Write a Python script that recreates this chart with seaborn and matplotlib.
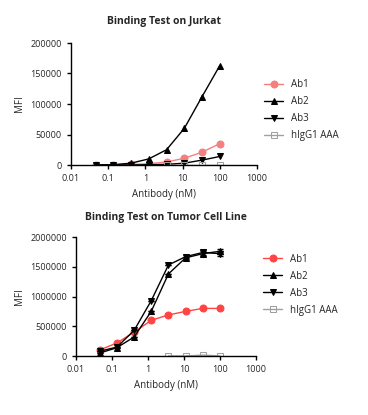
import numpy as np
import pandas as pd
import matplotlib
matplotlib.use("Agg")
import matplotlib.pyplot as plt
import seaborn as sns

# antibody concentrations (nM), 3-fold dilution
conc = [0.0457, 0.137, 0.412, 1.23, 3.70, 11.1, 33.3, 100]
conc_igg = [3.70, 11.1, 33.3, 100]

# Jurkat
jurkat_ab1 = [300, 500, 1000, 2000, 5000, 11000, 21000, 35000]
jurkat_ab2 = [0, 500, 3000, 10000, 25000, 60000, 112000, 163000]
jurkat_ab3 = [0, 0, 0, 500, 1000, 3000, 8000, 14000]
jurkat_igg = [0, 0, 0, 0]

# tumor cell line
tumor_ab1 = [100000, 220000, 400000, 600000, 690000, 750000, 800000, 800000]
tumor_ab2 = [50000, 140000, 320000, 750000, 1380000, 1650000, 1720000, 1760000]
tumor_ab3 = [80000, 150000, 430000, 930000, 1530000, 1670000, 1740000, 1720000]
tumor_igg = [0, 0, 15000, 0]
tumor_err = [0, 0, 0, 0, 0, 20000, 40000, 45000]

sns.set_style("ticks")
plt.rcParams["font.family"] = ["Open Sans", "DejaVu Sans"]

fig = plt.figure(figsize=(3.68, 4.15), dpi=100)
W, H = 368, 415
ax1 = fig.add_axes([71 / W, 1 - 165 / H, 186 / W, 122 / H])
ax2 = fig.add_axes([76 / W, 1 - 356 / H, 180 / W, 119 / H])


def draw(ax, series, igg, leg_y, err=None):
    for name, y, color, marker in series:
        sns.lineplot(x=conc, y=y, ax=ax, color=color, marker=marker, markersize=5,
                     markeredgecolor=color, linewidth=1, label=name)
        if err is not None and name != "Ab1":
            ax.errorbar(conc, y, yerr=err, fmt="none", ecolor=color, elinewidth=1, capsize=2)
    sns.lineplot(x=conc_igg, y=igg, ax=ax, color="#a0a0a0", marker="s", markersize=4.5,
                 markerfacecolor="none", markeredgecolor="#a0a0a0", linewidth=1, label="hIgG1 AAA")
    ax.set_xscale("log")
    ax.set_xlim(0.01, 1000)
    ax.set_xticks([0.01, 0.1, 1, 10, 100, 1000])
    ax.set_xticklabels(["0.01", "0.1", "1", "10", "100", "1000"])
    ax.xaxis.set_minor_locator(matplotlib.ticker.NullLocator())
    ax.set_xlabel("Antibody (nM)", fontsize=7)
    ax.set_ylabel("MFI", fontsize=7)
    ax.tick_params(labelsize=6.5, width=1, length=3, color="black")
    for s in ["left", "bottom"]:
        ax.spines[s].set_linewidth(1)
        ax.spines[s].set_color("black")
    sns.despine(ax=ax)
    ax.legend(loc="center left", bbox_to_anchor=(1.0, leg_y), frameon=False,
              fontsize=7, handlelength=2, labelspacing=0.62, borderaxespad=0.3)


draw(ax1, [("Ab1", jurkat_ab1, "#f57f7f", "o"),
           ("Ab2", jurkat_ab2, "black", "^"),
           ("Ab3", jurkat_ab3, "black", "v")], jurkat_igg, 0.45)
ax1.set_ylim(0, 200000)
ax1.set_yticks([0, 50000, 100000, 150000, 200000])
ax1.set_yticklabels(["0", "50000", "100000", "150000", "200000"])
ax1.set_title("Binding Test on Jurkat", fontsize=7.5, fontweight="bold", pad=14)

draw(ax2, [("Ab1", tumor_ab1, "#ff4444", "o"),
           ("Ab2", tumor_ab2, "black", "^"),
           ("Ab3", tumor_ab3, "black", "v")], tumor_igg, 0.60, err=tumor_err)
ax2.set_ylim(0, 2000000)
ax2.set_yticks([0, 500000, 1000000, 1500000, 2000000])
ax2.set_yticklabels(["0", "500000", "1000000", "1500000", "2000000"])
ax2.set_title("Binding Test on Tumor Cell Line", fontsize=7.5, fontweight="bold", pad=12)

fig.savefig("out.png", dpi=100)
